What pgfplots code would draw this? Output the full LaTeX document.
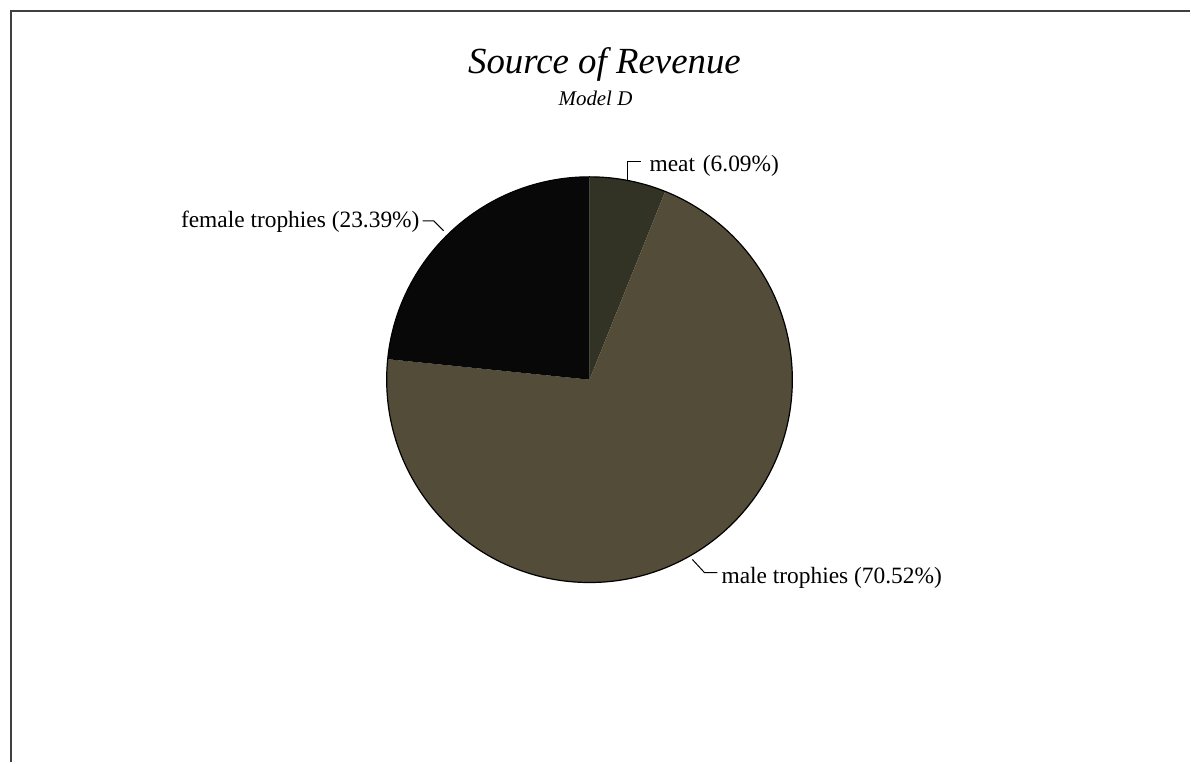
\documentclass[border=0pt]{standalone}
\usepackage{pgfplots}
\pgfplotsset{compat=1.18}
\usepackage{pgfplotstable}
\usepackage{fontspec}
\setmainfont{Liberation Serif}
\definecolor{meatcol}{RGB}{50,50,37}
\definecolor{malecol}{RGB}{82,76,57}
\definecolor{femalecol}{RGB}{8,8,8}
\pgfplotstableread{
label value
meat 6.09
male 70.52
female 23.39
}\pietable
\begin{document}
\begin{tikzpicture}
\pgfplotstablegetelem{0}{value}\of\pietable \let\vA\pgfplotsretval
\pgfplotstablegetelem{1}{value}\of\pietable \let\vB\pgfplotsretval
\pgfplotstablegetelem{2}{value}\of\pietable \let\vC\pgfplotsretval
\pgfmathsetmacro\aA{90-3.6*\vA}
\pgfmathsetmacro\aB{\aA-3.6*\vB}
\pgfmathsetmacro\aC{\aB-3.6*\vC}
\begin{axis}[width=1191bp,height=763bp,scale only axis,
  xmin=0,xmax=1191,ymin=0,ymax=763,hide axis,clip=false]
\addplot[draw=none,forget plot] coordinates {(0,0) (1191,763)};
% frame
\draw[line width=2bp,black!75] (axis cs:11,0) -- (axis cs:11,752) -- (axis cs:1191,752);
% pie
\fill[meatcol] (axis cs:590,383) -- ++(90:203bp) arc[start angle=90,end angle=\aA,radius=203bp] -- cycle;
\fill[malecol] (axis cs:590,383) -- ++(\aA:203bp) arc[start angle=\aA,end angle=\aB,radius=203bp] -- cycle;
\fill[femalecol] (axis cs:590,383) -- ++(\aB:203bp) arc[start angle=\aB,end angle=\aC,radius=203bp] -- cycle;
\draw[line width=1.2bp,black] (axis cs:590,383) circle[radius=203bp];
% title
\node[anchor=base,font=\fontsize{37}{40}\selectfont\itshape] at (axis cs:605,689) {Source of Revenue};
\node[anchor=base,font=\fontsize{21}{24}\selectfont\itshape] at (axis cs:596,657) {Model D};
% labels
\node[anchor=base west,inner sep=0pt,font=\fontsize{23.5}{26}\selectfont] at (axis cs:650,591) {meat\,\,(6.09\%)};
\draw[line width=1bp] (axis cs:628,583) -- (axis cs:628,601) -- (axis cs:642,601);
\node[anchor=base east,inner sep=0pt,font=\fontsize{23.5}{26}\selectfont] at (axis cs:420,535) {female trophies (23.39\%)};
\draw[line width=1bp] (axis cs:423,542) -- (axis cs:434,542) -- (axis cs:444,532);
\node[anchor=base west,inner sep=0pt,font=\fontsize{23.5}{26}\selectfont] at (axis cs:722,179) {male trophies (70.52\%)};
\draw[line width=1bp] (axis cs:693,203) -- (axis cs:705,190) -- (axis cs:718,190);
\end{axis}
\end{tikzpicture}
\end{document}
